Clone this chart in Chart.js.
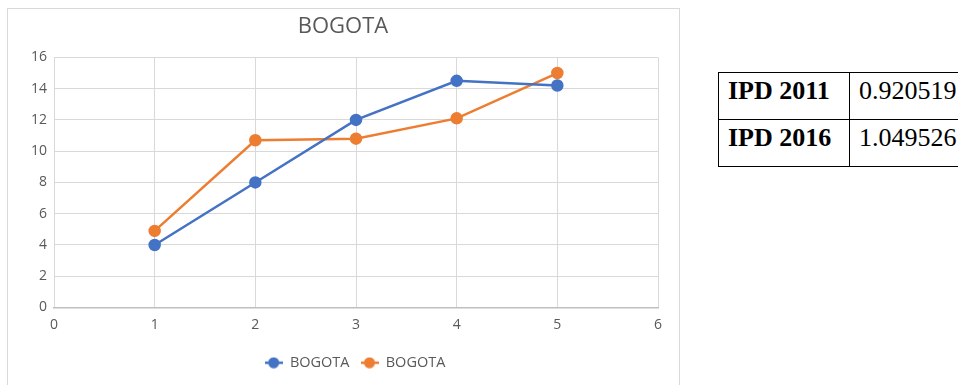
<!DOCTYPE html>
<html>
<head>
<meta charset="utf-8">
<script src="https://cdn.jsdelivr.net/npm/chart.js@4.4.1/dist/chart.umd.min.js"></script>
<style>
  body { margin: 0; background: #fff; width: 958px; height: 385px; overflow: hidden; position: relative; }
  #box { position: absolute; left: 7px; top: 8px; width: 673px; height: 385px; border: 1px solid #d9d9d9; box-sizing: border-box; }
  #box canvas { position: absolute; left: 0; top: 0; }
  table { position: absolute; left: 718px; top: 72px; border-collapse: collapse; font-family: "Liberation Serif", "DejaVu Serif", serif; font-size: 26px; color: #000; }
  td { border: 1.5px solid #000; padding: 3px 8px 13px 9px; line-height: 30px; white-space: nowrap; }
  td.k { font-weight: bold; width: 113px; min-width: 113px; }
  td.v { width: 160px; min-width: 160px; }
</style>
</head>
<body>
<div id="box"><canvas id="chart" width="673" height="377"></canvas></div>
<table>
  <tr><td class="k">IPD 2011</td><td class="v">0.920519</td></tr>
  <tr><td class="k">IPD 2016</td><td class="v">1.049526</td></tr>
</table>
<script>
  // values
  const xValues = [1, 2, 3, 4, 5];
  const bogotaA = [4, 8, 12, 14.5, 14.2];
  const bogotaB = [4.9, 10.7, 10.8, 12.1, 15];
  const seriesNames = ["BOGOTA", "BOGOTA"];

  const blue = "#4472C4";
  const orange = "#ED7D31";
  const textGray = "#595959";

  // small legend marker: short line with a dot in the middle
  function marker(color) {
    const c = document.createElement("canvas");
    c.width = 18; c.height = 12;
    const g = c.getContext("2d");
    g.strokeStyle = color; g.lineWidth = 2.5;
    g.beginPath(); g.moveTo(0, 6); g.lineTo(18, 6); g.stroke();
    g.fillStyle = color;
    g.beginPath(); g.arc(9, 6, 5.5, 0, Math.PI * 2); g.fill();
    return c;
  }

  function toPoints(ys) {
    return xValues.map((x, i) => ({ x: x, y: ys[i] }));
  }

  // centre title and legend on the whole chart box, like the original
  const shiftBoxes = {
    id: "shiftBoxes",
    afterLayout(chart) {
      chart.titleBlock.left += 10;
      chart.titleBlock.right += 10;
      chart.legend.left += 22;
      chart.legend.right += 22;
    },
  };

  const ctx = document.getElementById("chart").getContext("2d");
  new Chart(ctx, {
    type: "scatter",
    data: {
      datasets: [
        {
          label: seriesNames[0],
          data: toPoints(bogotaA),
          showLine: true,
          borderColor: blue,
          backgroundColor: blue,
          borderWidth: 2.5,
          pointRadius: 5,
          pointStyle: "circle",
        },
        {
          label: seriesNames[1],
          data: toPoints(bogotaB),
          showLine: true,
          borderColor: orange,
          backgroundColor: orange,
          borderWidth: 2.5,
          pointRadius: 5,
          pointStyle: "circle",
        },
      ],
    },
    plugins: [shiftBoxes],
    options: {
      responsive: false,
      animation: false,
      layout: { padding: { left: 0, right: 23, top: 0, bottom: 6 } },
      plugins: {
        title: {
          display: true,
          text: "BOGOTA",
          color: textGray,
          font: { family: "Open Sans", size: 22, weight: "normal" },
          padding: { top: 5, bottom: 17 },
        },
        legend: {
          position: "bottom",
          labels: {
            color: textGray,
            font: { family: "Open Sans", size: 14.5 },
            padding: 11,
            usePointStyle: true,
            pointStyleWidth: 18,
            generateLabels: (chart) =>
              chart.data.datasets.map((ds, i) => ({
                text: ds.label,
                fillStyle: ds.borderColor,
                strokeStyle: ds.borderColor,
                pointStyle: marker(ds.borderColor),
                fontColor: textGray,
                datasetIndex: i,
                lineWidth: 0,
              })),
          },
        },
        tooltip: { enabled: false },
      },
      scales: {
        x: {
          type: "linear",
          min: 0,
          max: 6,
          ticks: { stepSize: 1, color: textGray, font: { family: "Open Sans", size: 14 }, padding: 9 },
          grid: { color: "#d9d9d9", drawTicks: false },
          border: { color: "#bfbfbf", width: 1.5 },
          afterFit: (s) => { s.height = 37; },
        },
        y: {
          min: 0,
          max: 16,
          ticks: { stepSize: 2, color: textGray, font: { family: "Open Sans", size: 14 }, padding: 7 },
          grid: { color: "#d9d9d9", drawTicks: false },
          border: { display: false },
          afterFit: (s) => { s.width = 46; },
        },
      },
    },
  });
</script>
</body>
</html>
